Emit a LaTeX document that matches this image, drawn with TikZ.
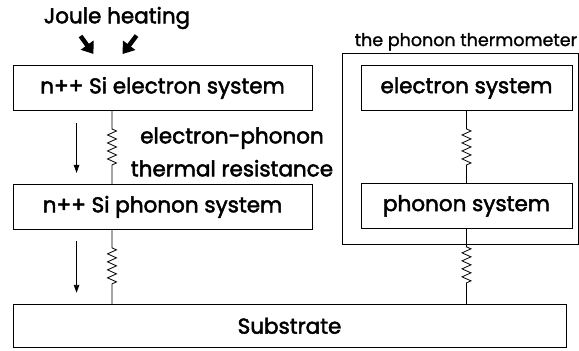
\documentclass[tikz,border=0pt]{standalone}
\usepackage{fontspec}
\setmainfont{Poppins}
\newfontfamily\boxfont{Poppins}[FakeBold=2.2]
\newfontfamily\titlefont{Poppins}[FakeBold=1.2]
\usetikzlibrary{arrows.meta, positioning, decorations.pathmorphing}
\tikzset{
	sysbox/.style   ={rectangle, draw=black, line width=0.9pt, minimum width=299pt, minimum height=45pt, inner sep=0pt, font=\boxfont\fontsize{21.5}{24}\selectfont},
	subbox/.style   ={sysbox, minimum width=553pt, minimum height=43pt},
	thermbox/.style ={sysbox, minimum width=211pt, minimum height=45pt},
	frame/.style    ={rectangle, draw=black, line width=0.9pt, inner sep=0pt},
	bigtext/.style  ={font=\boxfont\fontsize{21.5}{33}\selectfont, align=center, inner sep=0pt},
	smalltext/.style={font=\titlefont\fontsize{17.5}{19}\selectfont, inner sep=0pt},
	spring/.style   ={line width=0.8pt, decorate, decoration={zigzag, segment length=8pt, amplitude=4.5pt, pre length=18pt, post length=18pt}},
	flowarrow/.style={-{Triangle[length=8pt, width=5.5pt]}, line width=0.8pt},
	heatarrow/.style={-{Triangle[length=11pt, width=15pt]}, line width=4.5pt},
}
\begin{document}
\begin{tikzpicture}[x=1pt, y=-1pt, node distance=73pt]
	\useasboundingbox (0,0) rectangle (579,351);
	% left column
	\node[bigtext] (jh) at (117,18) {Joule heating};
	\node[sysbox] (ne) at (162.5,88) {n++ Si electron system};
	\node[sysbox, below=of ne] (np) {n++ Si phonon system};
	\node[subbox, below=74pt of np.south west, anchor=north west] (sub) {Substrate};
	\node[bigtext] (ep) at (232,152) {electron-phonon\\thermal resistance};
	\coordinate (rl) at (112,0);
	% thermometer
	\node[frame, minimum width=236pt, minimum height=191pt] (th) at (460,148.5) {};
	\node[smalltext, anchor=base west] (tt) at ([shift={(13,-6.5)}]th.north west) {the phonon thermometer};
	\node[thermbox] (te) at (466.5,88) {electron system};
	\node[thermbox, below=72pt of te] (tp) {phonon system};
	% resistances
	\draw[spring] (ne.south -| rl) -- (np.north -| rl);
	\draw[spring] (np.south -| rl) -- (sub.north -| rl);
	\draw[spring] (te.south) -- (tp.north);
	\draw[spring] (tp.south) -- (tp.south |- sub.north);
	% heat flow
	\draw[heatarrow] ([shift={(68,-29)}]ne.north west) -- ([shift={(81,-11)}]ne.north west);
	\draw[heatarrow] ([shift={(124,-29.5)}]ne.north west) -- ([shift={(110,-11)}]ne.north west);
	\draw[flowarrow] ([shift={(64,12)}]ne.south west) -- ++(0,50);
	\draw[flowarrow] ([shift={(64,11)}]np.south west) -- ++(0,52);
\end{tikzpicture}
\end{document}
